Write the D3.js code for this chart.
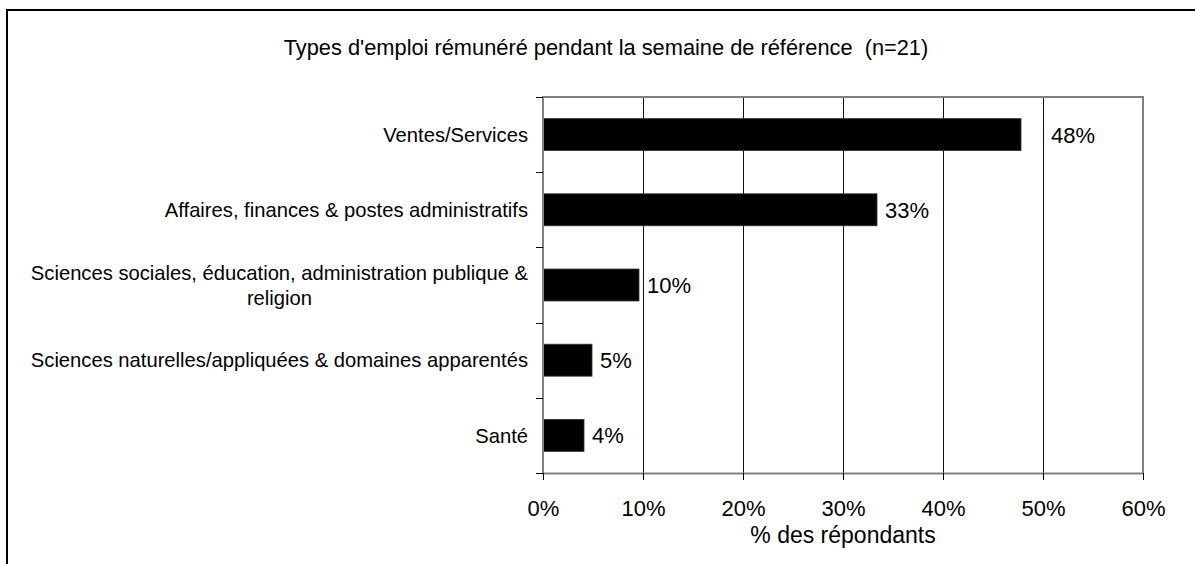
<!DOCTYPE html>
<html>
<head>
<meta charset="utf-8">
<script src="https://cdn.jsdelivr.net/npm/d3@7"></script>
<style>
  html, body { margin: 0; padding: 0; background: #fff; }
  svg { display: block; font-family: "Liberation Sans", Arial, sans-serif; }
</style>
</head>
<body>
<svg id="chart" width="1195" height="564"></svg>
<script>
// Job categories (top to bottom) and share of respondents, in percent
const categories = [
  "Ventes/Services",
  "Affaires, finances & postes administratifs",
  "Sciences sociales, éducation, administration publique & religion",
  "Sciences naturelles/appliquées & domaines apparentés",
  "Santé"
];
const values = [47.8, 33.4, 9.6, 4.9, 4.1];
const xTicks = [0, 10, 20, 30, 40, 50, 60];

const title = "Types d'emploi rémunéré pendant la semaine de référence  (n=21)";
const xTitle = "% des répondants";

const svg = d3.select("#chart");
const W = 1195, H = 564;
const plot = { left: 543, right: 1143, top: 97, bottom: 473 };

// outer frame (runs off the right and bottom edges)
svg.append("rect")
  .attr("x", 7).attr("y", 10)
  .attr("width", W).attr("height", H)
  .attr("fill", "#fff").attr("stroke", "#000").attr("stroke-width", 2);

const x = d3.scaleLinear().domain([0, 60]).range([plot.left, plot.right]);
const y = d3.scaleBand().domain(categories)
  .range([plot.top, plot.bottom])
  .paddingInner(0.575).paddingOuter(0.2875);

// vertical gridlines
const gridVals = xTicks.filter(d => d > 0 && d < 60);
svg.append("g").selectAll("line")
  .data(gridVals)
  .join("line")
  .attr("x1", d => Math.round(x(d)) + 0.5).attr("x2", d => Math.round(x(d)) + 0.5)
  .attr("y1", plot.top).attr("y2", plot.bottom)
  .attr("stroke", "#111").attr("stroke-width", 1);

// plot frame: top and right edges
svg.append("path")
  .attr("d", `M${plot.left},${plot.top}H${plot.right}V${plot.bottom}`)
  .attr("fill", "none").attr("stroke", "#808080").attr("stroke-width", 2);

// bars
svg.append("g").selectAll("rect")
  .data(categories)
  .join("rect")
  .attr("x", x(0))
  .attr("y", d => y(d))
  .attr("width", (d, i) => x(values[i]) - x(0))
  .attr("height", y.bandwidth())
  .attr("fill", "#000")
  .attr("stroke", "#333").attr("stroke-width", 0.8);

// value labels; a label that would sit on a gridline is moved past it
const fmt = d3.format(".0f");
const valueSize = 22, labelGap = 8;
const valG = svg.append("g").attr("font-size", valueSize).attr("fill", "#000");
categories.forEach((cat, i) => {
  const t = valG.append("text")
    .attr("y", y(cat) + y.bandwidth() / 2)
    .attr("dy", "0.36em")
    .text(fmt(values[i]) + "%");
  let lx = x(values[i]) + labelGap;
  const w = t.node().getComputedTextLength();
  gridVals.forEach(g => {
    const gx = x(g);
    if (gx > lx - 2 && gx < lx + w) lx = gx + labelGap;
  });
  t.attr("x", lx);
});

// x axis
const xAxis = svg.append("g")
  .attr("transform", `translate(0,${plot.bottom})`)
  .call(d3.axisBottom(x).tickValues(xTicks).tickFormat(d => d + "%")
    .tickSize(7).tickSizeOuter(0).tickPadding(20));
xAxis.select(".domain").attr("stroke", "#808080").attr("stroke-width", 2);
xAxis.selectAll(".tick line").attr("stroke", "#000");
xAxis.selectAll(".tick text")
  .attr("font-size", 22).attr("font-family", "Liberation Sans, Arial, sans-serif")
  .attr("fill", "#000");

// y axis line and tick marks at category boundaries
svg.append("line")
  .attr("x1", plot.left).attr("x2", plot.left)
  .attr("y1", plot.top - 1).attr("y2", plot.bottom)
  .attr("stroke", "#808080").attr("stroke-width", 2);
const step = y.step();
svg.append("g").selectAll("line")
  .data(d3.range(categories.length + 1))
  .join("line")
  .attr("x1", plot.left - 7).attr("x2", plot.left)
  .attr("y1", i => Math.round(plot.top + i * step) + 0.5)
  .attr("y2", i => Math.round(plot.top + i * step) + 0.5)
  .attr("stroke", "#000").attr("stroke-width", 1);

// category labels, wrapped and centred as a block against the axis
const labelRight = 528, wrapWidth = 512, lineH = 25, labelSize = 20.2;
const catG = svg.append("g").attr("font-size", labelSize).attr("fill", "#000");
categories.forEach(cat => {
  const t = catG.append("text").attr("text-anchor", "middle");
  const words = cat.split(" ");
  const lines = [];
  let cur = [];
  const probe = catG.append("text");
  words.forEach(w => {
    const test = cur.concat(w).join(" ");
    probe.text(test);
    if (probe.node().getComputedTextLength() > wrapWidth && cur.length) {
      lines.push(cur.join(" "));
      cur = [w];
    } else cur.push(w);
  });
  lines.push(cur.join(" "));
  const w0 = d3.max(lines, l => { probe.text(l); return probe.node().getComputedTextLength(); });
  probe.remove();
  const cx = labelRight - w0 / 2;
  const cy = y(cat) + y.bandwidth() / 2;
  lines.forEach((l, k) => {
    t.append("tspan")
      .attr("x", cx)
      .attr("y", cy + (k - (lines.length - 1) / 2) * lineH)
      .attr("dy", "0.36em")
      .text(l);
  });
});

// chart title
svg.append("text")
  .attr("x", 606).attr("y", 55)
  .attr("text-anchor", "middle")
  .attr("font-size", 21.8).attr("fill", "#000")
  .style("white-space", "pre")
  .text(title);

// x axis title
svg.append("text")
  .attr("x", (plot.left + plot.right) / 2).attr("y", 543)
  .attr("text-anchor", "middle")
  .attr("font-size", 23).attr("fill", "#000")
  .text(xTitle);
</script>
</body>
</html>
